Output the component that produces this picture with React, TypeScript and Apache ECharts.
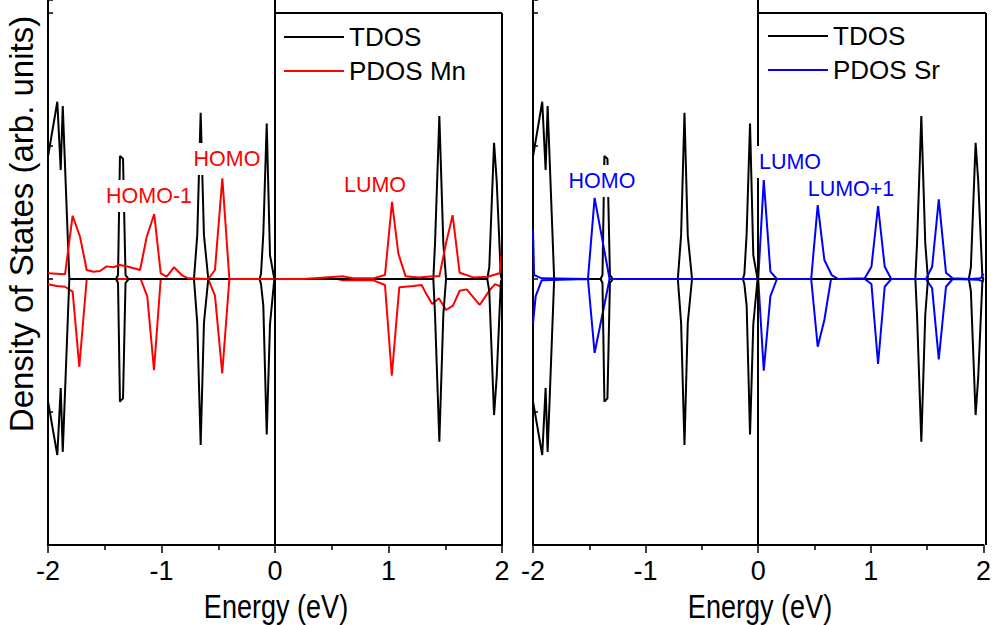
import React, { useEffect, useRef } from 'react';
import * as echarts from 'echarts';

// Energy axis ticks (eV)
const energyMin = -2;
const energyMax = 2;

// Total DOS (same in both panels), spin up (positive) and spin down (negative)
const tdosUp: number[][] = [
  [-2.0, 0.92], [-1.918, 1.333], [-1.888, 0.82], [-1.87, 1.3], [-1.812, 0],
  [-1.4, 0], [-1.383, 0.03], [-1.366, 0.925], [-1.339, 0.905], [-1.317, 0.03], [-1.29, 0],
  [-0.714, 0], [-0.685, 0.33], [-0.655, 1.25], [-0.626, 0.33], [-0.588, 0],
  [-0.136, 0], [-0.123, 0.04], [-0.103, 0.34], [-0.073, 1.17], [-0.044, 0.18], [-0.006, 0],
  [1.395, 0], [1.41, 0.27], [1.448, 1.225], [1.483, 0.27], [1.507, 0],
  [1.87, 0], [1.888, 0.09], [1.93, 1.025], [1.953, 0.74], [1.99, 0.02], [2.0, 0],
];
const tdosDown: number[][] = [
  [-2.0, -0.92], [-1.918, -1.323], [-1.888, -0.82], [-1.87, -1.3], [-1.812, 0],
  [-1.4, 0], [-1.383, -0.03], [-1.366, -0.922], [-1.339, -0.897], [-1.317, -0.03], [-1.29, 0],
  [-0.714, 0], [-0.685, -0.33], [-0.655, -1.248], [-0.626, -0.33], [-0.588, 0],
  [-0.136, 0], [-0.123, -0.04], [-0.103, -0.2], [-0.073, -1.168], [-0.044, -0.34], [-0.006, 0],
  [1.395, 0], [1.41, -0.27], [1.448, -1.223], [1.483, -0.27], [1.507, 0],
  [1.87, 0], [1.888, -0.09], [1.93, -1.023], [1.953, -0.74], [1.99, -0.02], [2.0, 0],
];

// Projected DOS of Mn
const pdosMnUp: number[][] = [
  [-2.0, 0.043], [-1.85, 0.035], [-1.783, 0.476], [-1.718, 0.318], [-1.659, 0.068],
  [-1.6, 0.055], [-1.542, 0.06], [-1.483, 0.095], [-1.425, 0.088], [-1.366, 0.105],
  [-1.292, 0.092], [-1.189, 0.068], [-1.13, 0.318], [-1.064, 0.489], [-1.007, 0.043],
  [-0.954, 0.018], [-0.89, 0.088], [-0.822, 0.03], [-0.764, 0.005], [-0.588, 0],
  [-0.529, 0.068], [-0.464, 0.757], [-0.402, 0], [0.25, 0], [0.6, 0.02], [0.69, 0.005],
  [0.866, 0.005], [0.969, 0.03], [1.031, 0.58], [1.087, 0.19], [1.151, 0.02], [1.263, 0.012],
  [1.395, 0.02], [1.448, 0.02], [1.507, 0.27], [1.565, 0.48], [1.627, 0.047], [1.747, 0.012],
  [1.872, 0.017], [1.98, 0.043], [2.0, 0.23],
];
const pdosMnDown: number[][] = [
  [-2.0, -0.04], [-1.923, -0.053], [-1.85, -0.058], [-1.783, -0.095], [-1.724, -0.66],
  [-1.659, 0], [-1.183, 0], [-1.125, -0.133], [-1.066, -0.686], [-1.007, 0], [-0.588, 0],
  [-0.529, -0.125], [-0.465, -0.709], [-0.402, 0], [0.55, 0], [0.6, -0.01], [0.69, -0.01],
  [0.866, -0.01], [0.969, -0.045], [1.029, -0.726], [1.095, -0.062], [1.219, -0.053],
  [1.292, -0.045], [1.322, -0.095], [1.385, -0.188], [1.444, -0.145], [1.507, -0.233],
  [1.568, -0.2], [1.627, -0.088], [1.689, -0.078], [1.803, -0.195], [1.89, -0.085],
  [1.938, -0.038], [2.0, -0.06],
];

// Projected DOS of Sr
const pdosSrUp: number[][] = [
  [-2.0, 0.368], [-1.99, 0.03], [-1.923, 0.005], [-1.512, 0], [-1.453, 0.61], [-1.32, 0],
  [0.0, 0], [0.049, 0.744], [0.108, 0.055], [0.166, 0], [0.47, 0], [0.528, 0.556],
  [0.587, 0.143], [0.652, 0.03], [0.711, 0], [0.946, 0.005], [1.005, 0.092], [1.064, 0.549],
  [1.123, 0.092], [1.181, 0], [1.49, 0], [1.544, 0.092], [1.603, 0.599], [1.667, 0.047],
  [1.726, 0.005], [1.888, 0], [1.976, 0.005], [2.0, 0.04],
];
const pdosSrDown: number[][] = [
  [-2.0, -0.333], [-1.976, -0.128], [-1.923, -0.01], [-1.512, 0], [-1.453, -0.556], [-1.32, 0],
  [0.0, 0], [0.049, -0.689], [0.108, -0.128], [0.166, 0], [0.47, 0], [0.528, -0.509],
  [0.587, -0.308], [0.646, 0], [0.946, 0], [1.005, -0.038], [1.064, -0.639], [1.123, -0.058],
  [1.181, 0], [1.49, 0], [1.544, -0.07], [1.603, -0.604], [1.667, -0.058], [1.726, 0],
  [1.95, -0.005], [2.0, -0.02],
];

const legendLeft = ['TDOS', 'PDOS Mn'];
const legendRight = ['TDOS', 'PDOS Sr'];

const SANS = "'Liberation Sans', Arial, sans-serif";

export default function App() {
  const ref = useRef<HTMLDivElement>(null);
  useEffect(() => {
    const chart = echarts.init(ref.current!, null, { renderer: 'svg' });

    const xAxis = (i: number) => ({
      type: 'value',
      gridIndex: i,
      min: energyMin,
      max: energyMax,
      interval: 1,
      axisLine: { onZero: false, lineStyle: { color: '#000', width: 2 } },
      axisTick: { inside: false, length: 8, lineStyle: { color: '#000', width: 1.5 } },
      minorTick: { show: true, splitNumber: 2, length: 5, lineStyle: { color: '#000', width: 1.5 } },
      splitLine: { show: false },
      axisLabel: { color: '#000', fontSize: 27, fontFamily: SANS, margin: 12 },
    });
    const yAxis = (i: number) => ({
      type: 'value',
      gridIndex: i,
      min: -2,
      max: 2.098,
      interval: 1,
      axisLine: { show: true, onZero: false, lineStyle: { color: '#000', width: 2 } },
      axisTick: { show: true, inside: true, length: 5, lineStyle: { color: '#000', width: 1.5 } },
      axisLabel: { show: false },
      splitLine: { show: false },
    });
    const line = (name: string, data: number[][], color: string, i: number, z: number, extra: any = {}) => ({
      type: 'line',
      name,
      data,
      xAxisIndex: i,
      yAxisIndex: i,
      symbol: 'none',
      lineStyle: { color, width: 2 },
      itemStyle: { color },
      z,
      silent: true,
      ...extra,
    });
    const zeroLine = {
      markLine: {
        silent: true,
        symbol: 'none',
        label: { show: false },
        lineStyle: { color: '#000', width: 2, type: 'solid' },
        data: [{ xAxis: 0 }],
      },
    };
    const label = (text: string, x: number, y: number, color: string, pad: number[] = [5, 2]) => ({
      type: 'text',
      x,
      y,
      z: 100,
      style: {
        text,
        fill: color,
        font: `21.5px ${SANS}`,
        align: 'center',
        verticalAlign: 'middle',
        textAlign: 'center',
        textVerticalAlign: 'middle',
        backgroundColor: '#fff',
        padding: pad,
      },
    });
    const axisName = (x: number) => ({
      type: 'text',
      x,
      y: 607,
      scaleX: 0.82,
      z: 100,
      style: {
        text: 'Energy (eV)',
        fill: '#000',
        font: `33px ${SANS}`,
        align: 'center',
        verticalAlign: 'middle',
        textAlign: 'center',
        textVerticalAlign: 'middle',
      },
    });
    const frameLine = (x1: number, y1: number, x2: number, y2: number) => ({
      type: 'line',
      z: 90,
      shape: { x1, y1, x2, y2 },
      style: { stroke: '#000', lineWidth: 2 },
    });
    const legend = (data: string[], left: number, top: number) => ({
      data,
      left,
      top,
      orient: 'vertical',
      icon: 'rect',
      itemWidth: 60,
      itemHeight: 2,
      itemGap: 8,
      padding: 0,
      selectedMode: false,
      textStyle: { color: '#000', fontSize: 26, fontFamily: SANS, lineHeight: 26 },
    });

    chart.setOption({
      animation: false,
      backgroundColor: '#fff',
      grid: [
        { left: 48, top: 0, width: 454, height: 545 },
        { left: 533, top: 0, width: 453, height: 545 },
      ],
      xAxis: [xAxis(0), xAxis(1)],
      yAxis: [yAxis(0), yAxis(1)],
      legend: [legend(legendLeft, 284, 24), legend(legendRight, 768, 23)],
      series: [
        line('PDOS Mn', pdosMnDown, '#ff0000', 0, 2),
        line('TDOS', tdosUp, '#000000', 0, 3, zeroLine),
        line('TDOS', tdosDown, '#000000', 0, 3),
        line('PDOS Mn', pdosMnUp, '#ff0000', 0, 4),
        line('PDOS Sr', pdosSrDown, '#0000ff', 1, 2),
        line('TDOS', tdosUp, '#000000', 1, 3, zeroLine),
        line('TDOS', tdosDown, '#000000', 1, 3),
        line('PDOS Sr', pdosSrUp, '#0000ff', 1, 4),
      ],
      graphic: [
        frameLine(275, 13, 502, 13),
        frameLine(502, 13, 502, 545),
        frameLine(759, 13, 986, 13),
        frameLine(986, 13, 986, 545),
        label('HOMO-1', 149, 196, '#ff0000'),
        label('HOMO', 227, 159, '#ff0000'),
        label('LUMO', 375, 185, '#ff0000'),
        label('HOMO', 602, 181, '#0000ff'),
        label('LUMO', 790, 162, '#0000ff'),
        label('LUMO+1', 851, 189, '#0000ff'),
        axisName(276),
        axisName(760),
        {
          type: 'text',
          x: 21,
          y: 224,
          rotation: Math.PI / 2,
          z: 100,
          style: {
            text: 'Density of States (arb. units)',
            fill: '#000',
            font: `33px ${SANS}`,
            align: 'center',
            verticalAlign: 'middle',
            textAlign: 'center',
            textVerticalAlign: 'middle',
          },
        },
      ],
    });
    return () => chart.dispose();
  }, []);
  return (
    <div
      ref={ref}
      style={{ position: 'absolute', left: 0, top: 0, width: 994, height: 625, background: '#fff' }}
    />
  );
}
